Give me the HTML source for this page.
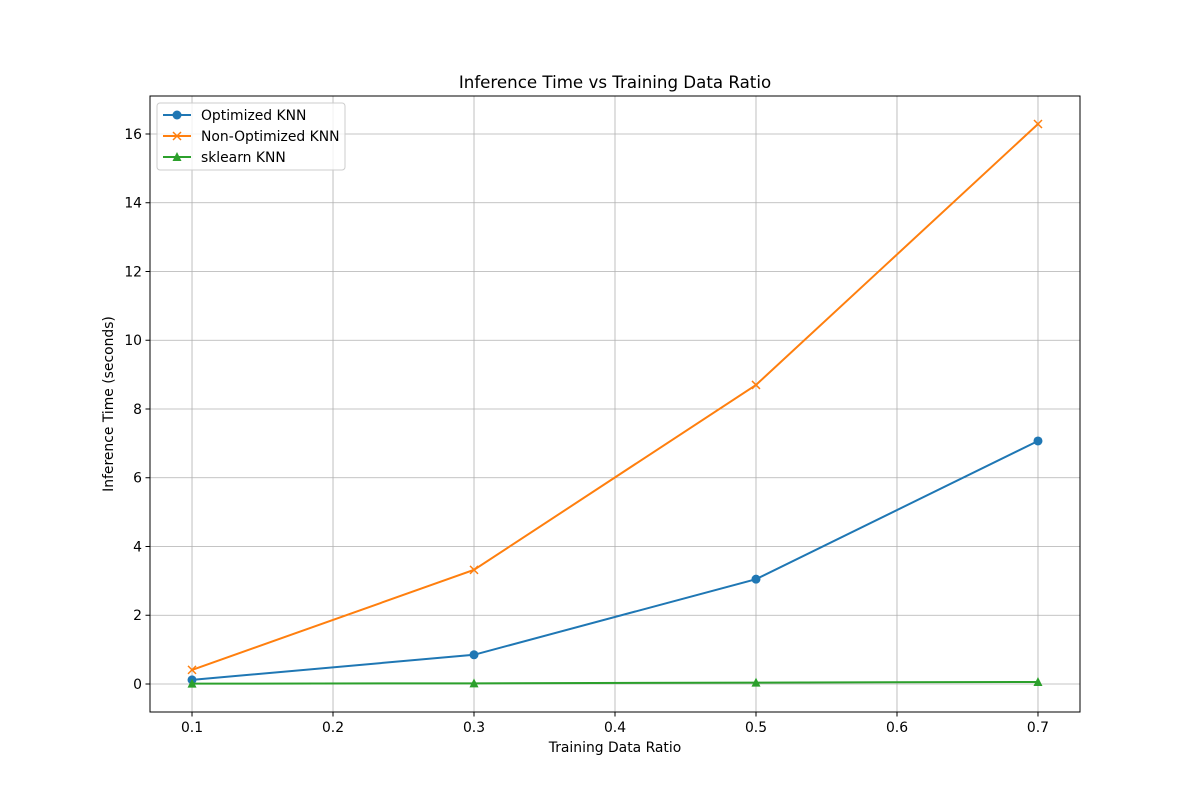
<!DOCTYPE html>
<html><head><meta charset="utf-8"><style>
body{margin:0;background:#fff;font-family:"Liberation Sans","DejaVu Sans",sans-serif;}
svg text{font-family:"DejaVu Sans","Liberation Sans",sans-serif;}
</style></head><body>
<svg id="chart" width="1200" height="800" xmlns="http://www.w3.org/2000/svg">
<rect width="1200" height="800" fill="#fff"/>
<g id="grid"></g>
<g id="series"></g>
<rect x="150" y="96" width="930" height="616" fill="none" stroke="#000" stroke-width="1"/>
<g id="ticks"></g>
<text x="615" y="88" text-anchor="middle" font-size="16.67">Inference Time vs Training Data Ratio</text>
<text x="615" y="752" text-anchor="middle" font-size="13.9">Training Data Ratio</text>
<text transform="translate(113,404) rotate(-90)" text-anchor="middle" font-size="13.9">Inference Time (seconds)</text>
<g id="legend"></g>
</svg>
<script>
const categories=[0.1,0.3,0.5,0.7];
const optimized=[0.12,0.85,3.05,7.07];
const nonOptimized=[0.41,3.32,8.70,16.29];
const sklearnVals=[0.01,0.02,0.04,0.06];
const xTicks=[0.1,0.2,0.3,0.4,0.5,0.6,0.7];
const yTicks=[0,2,4,6,8,10,12,14,16];
const seriesNames=["Optimized KNN","Non-Optimized KNN","sklearn KNN"];
const NS="http://www.w3.org/2000/svg";
const X0=150,X1=1080,Y0=712,Y1=96,xmin=0.0702,xmax=0.7298,ymin=-0.8145,ymax=17.105;
const sx=v=>X0+(v-xmin)/(xmax-xmin)*(X1-X0);
const sy=v=>Y0-(v-ymin)/(ymax-ymin)*(Y0-Y1);
function mk(t,a,p){const e=document.createElementNS(NS,t);for(const k in a)e.setAttribute(k,a[k]);p.appendChild(e);return e;}
const grid=document.getElementById('grid'),ticks=document.getElementById('ticks');
xTicks.forEach(v=>{const x=sx(v);
const g=mk('line',{x1:x,x2:x,y1:Y1,y2:Y0,stroke:'#b0b0b0','stroke-width':0.8},grid);

const t=mk('line',{x1:x,x2:x,y1:Y0,y2:Y0+4.5,stroke:'#000'},ticks);

const l=mk('text',{x:x,y:Y0+20,'text-anchor':'middle','font-size':13.9},ticks);l.textContent=v.toFixed(1);
});
yTicks.forEach(v=>{const y=sy(v);
const g=mk('line',{x1:X0,x2:X1,y1:y,y2:y,stroke:'#b0b0b0','stroke-width':0.8},grid);

const t=mk('line',{x1:X0-4.5,x2:X0,y1:y,y2:y,stroke:'#000'},ticks);

const l=mk('text',{x:X0-8,y:y+5,'text-anchor':'end','font-size':13.9},ticks);l.textContent=v;
});
const colors=['#1f77b4','#ff7f0e','#2ca02c'],markers=['o','x','^'];
function marker(m,x,y,c,p){let e;
if(m==='o')e=mk('circle',{cx:x,cy:y,r:4.5,fill:c},p);
else if(m==='x')e=mk('path',{d:`M${x-4},${y-4}L${x+4},${y+4}M${x-4},${y+4}L${x+4},${y-4}`,stroke:c,'stroke-width':1.5},p);
else e=mk('path',{d:`M${x},${y-5}L${x+4.5},${y+4}L${x-4.5},${y+4}Z`,fill:c},p);
return e;}
const sg=document.getElementById('series');
[optimized,nonOptimized,sklearnVals].forEach((d,i)=>{
const pts=d.map((v,j)=>sx(categories[j])+','+sy(v)).join(' ');
const pl=mk('polyline',{points:pts,fill:'none',stroke:colors[i],'stroke-width':2},sg);

d.forEach((v,j)=>{const m=marker(markers[i],sx(categories[j]),sy(v),colors[i],sg);
});});
const lg=document.getElementById('legend');
const box=mk('rect',{x:157,y:103,width:188,height:67,rx:3,fill:'#fff','fill-opacity':0.8,stroke:'#ccc'},lg);

seriesNames.forEach((n,i)=>{const y=115+i*21;
const l=mk('line',{x1:163,x2:191,y1:y,y2:y,stroke:colors[i],'stroke-width':2},lg);

const m=marker(markers[i],177,y,colors[i],lg);

const t=mk('text',{x:201,y:y+5,'font-size':13.9},lg);t.textContent=n;
});
</script>
</body></html>
